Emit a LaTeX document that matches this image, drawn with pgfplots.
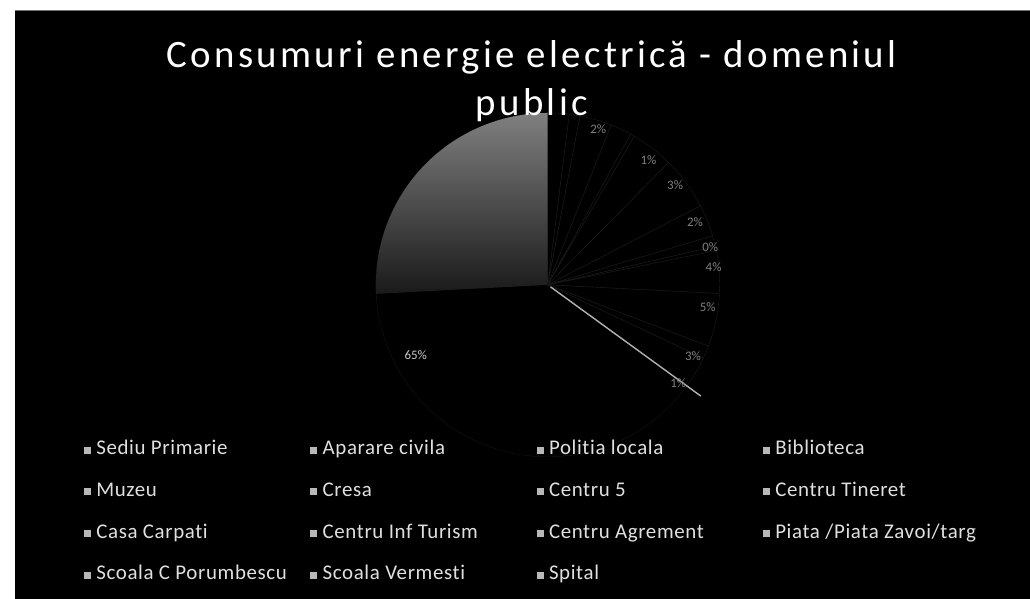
\documentclass[border=0pt]{standalone}
\usepackage{fontspec}
\setmainfont[Ligatures={NoCommon}]{Carlito}
\usepackage{pgfplots}
\pgfplotsset{compat=1.18}
\usepgfplotslibrary{polar}
% running cumulative share (percent) of the small slices, clockwise from 12 o'clock
\gdef\cum{0}
\newcommand\pieslice[3]{% #1 = percent, #2 = fill colour, #3 = legend text
  \pgfmathsetmacro\angA{90-3.6*\cum}%
  \pgfmathsetmacro\newcum{\cum+#1}%
  \xdef\cum{\newcum}%
  \pgfmathsetmacro\angB{90-3.6*\cum}%
  \edef\doplot{\noexpand\addplot[fill=#2, draw=white!11!black, line width=0.4bp,
     domain=\angB:\angA, samples=12] {1} -- (axis cs:0,0) -- cycle;}%
  \doplot
  \addlegendentry{\makebox[214bp][l]{#3}}%
}
\begin{document}
\begin{tikzpicture}[x=1bp,y=1bp]
\fill[white] (0,0) rectangle (1030,599);
\fill[black] (15,0) rectangle (1030,588);
\draw[black!55, line width=0.8bp] (15,588.4) -- (1030,588.4);
\begin{polaraxis}[
  at={(548bp,314bp)}, anchor=center,
  width=344bp, height=344bp, scale only axis,
  xmin=0, xmax=360, ymin=0, ymax=1,
  hide axis, clip=false,
  legend columns=4, legend cell align=left,
  legend style={at={(axis description cs:-0.8488,0.0465)}, anchor=north west,
    draw=none, fill=none, inner sep=0pt, outer sep=0pt,
    text=white!88!black,
    font=\fontsize{21}{24}\selectfont\addfontfeature{LetterSpace=3},
    nodes={inner sep=0pt, outer sep=0pt, text height=14bp, text depth=4bp},
    row sep=23.7bp,
    /tikz/every odd column/.append style={column sep=6bp}},
  legend image code/.code={\fill[white!72!black] (0bp,-3bp) rectangle (6bp,3bp);},
]
% Sediu Primarie: 65 %  (from 35 % to 100 % clockwise from the top)
\addplot[fill=black, draw=white!8!black, line width=0.4bp, domain=-270:-36, samples=80] {1} -- (axis cs:0,0) -- cycle;
\addlegendentry{\makebox[214bp][l]{Sediu Primarie}}
% lighter upper-left part of the big slice, as in the scan
\addplot[forget plot, draw=none, top color=white!50!black, bottom color=black!90,
  domain=90:183, samples=40] {1} -- (axis cs:0,0) -- cycle;
\pieslice{2}{black}{Aparare civila}
\pieslice{1}{black}{Politia locala}
\pieslice{3}{black}{Biblioteca}
\pieslice{2}{black}{Muzeu}
\pieslice{0.4}{black}{Cresa}
\pieslice{4}{black}{Centru 5}
\pieslice{5}{black}{Centru Tineret}
\pieslice{3}{black}{Casa Carpati}
\pieslice{1}{black}{Centru Inf Turism}
\pieslice{0.4}{black}{Centru Agrement}
\pieslice{4}{black}{Piata /Piata Zavoi/targ}
\pieslice{5}{black}{Scoala C Porumbescu}
\pieslice{1.2}{black}{Scoala Vermesti}
\pieslice{3}{black}{Spital}
% bright edge between the small slices and the big one
\addplot[forget plot, white!70!black, line width=1.4bp] coordinates {(-36,0.02) (-36,1.1)};
% data labels
\begin{scope}[every node/.style={font=\fontsize{13}{13}\selectfont, text=white!50!black, inner sep=0pt}]
\node at (axis cs:72,0.95) {2\%};
\node at (axis cs:51,0.93) {1\%};
\node at (axis cs:38,0.94) {3\%};
\node at (axis cs:23,0.93) {2\%};
\node at (axis cs:13,0.97) {0\%};
\node at (axis cs:6,0.97) {4\%};
\node at (axis cs:-8,0.94) {5\%};
\node at (axis cs:-26,0.94) {3\%};
\node at (axis cs:-37,0.95) {1\%};
\node[text=white!80!black] at (axis cs:208,0.87) {65\%};
\end{scope}
\end{polaraxis}
\node[anchor=base, text=white, font=\fontsize{39}{46}\selectfont\addfontfeature{LetterSpace=8.5}] at (532,531) {Consumuri energie electrică - domeniul};
\node[anchor=base, text=white, font=\fontsize{39}{46}\selectfont\addfontfeature{LetterSpace=8.5}] at (532,483) {public};
\end{tikzpicture}
\end{document}
